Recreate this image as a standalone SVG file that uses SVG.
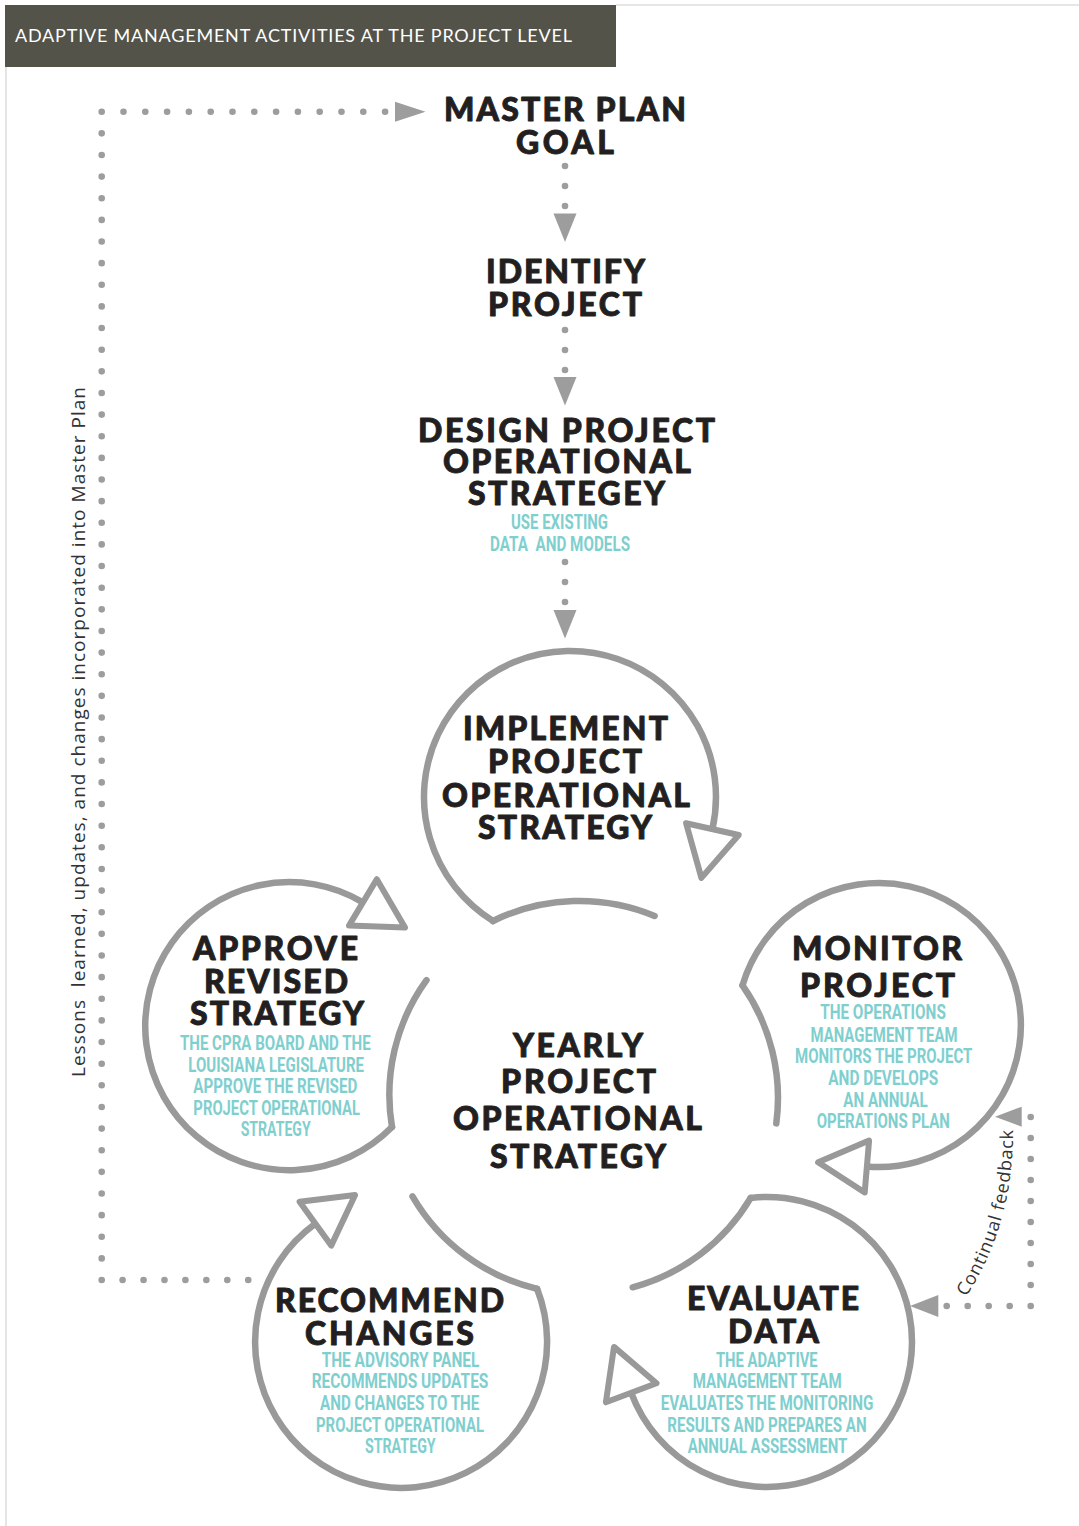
<svg xmlns="http://www.w3.org/2000/svg" width="1079" height="1526" viewBox="0 0 1079 1526">
<style>
.ring{fill:none;stroke:#999999;stroke-width:6.5;stroke-linecap:round}
.head{fill:none;stroke:#999999;stroke-width:6;stroke-linejoin:round;fill:#ffffff}
.dot{fill:none;stroke:#9d9d9d;stroke-width:6.6;stroke-linecap:round}
.tri{fill:#9d9d9d;stroke:none}
.h{font-family:Lato,"Liberation Sans",sans-serif;font-weight:900;font-size:32px;fill:#231f20;stroke:#231f20;stroke-width:0.9;stroke-linejoin:round;text-anchor:middle}
.t{font-family:Roboto,"Liberation Sans",sans-serif;font-weight:700;font-size:19.5px;fill:#80cfcf;text-anchor:middle}
.side{font-family:"Open Sans","Liberation Sans",sans-serif;font-size:19px;fill:#333333}
</style>
<rect x="0" y="0" width="1079" height="1526" fill="#ffffff"/>
<g id="frame">
<rect x="5" y="5" width="611" height="62" fill="#53534a"/>
<line x1="616" y1="5" x2="1079" y2="5" stroke="#e6e6e6" stroke-width="2"/>
<line x1="6" y1="67" x2="6" y2="1526" stroke="#dcdcdc" stroke-width="1.5"/>
<text x="15" y="42" font-family="Lato,'Liberation Sans',sans-serif" font-size="18" fill="#ffffff" textLength="557">ADAPTIVE MANAGEMENT ACTIVITIES AT THE PROJECT LEVEL</text>
</g>

<g id="connectors">
<line class="dot" x1="101.7" y1="111.7" x2="101.7" y2="1280.5" stroke-dasharray="0 21.636"/>
<line class="dot" x1="123.5" y1="111.7" x2="385.5" y2="111.7" stroke-dasharray="0 21.8"/>
<line class="dot" x1="122.6" y1="1280" x2="248.8" y2="1280" stroke-dasharray="0 20.94"/>
<polygon class="tri" points="395,101.7 425.5,111.7 395,121.7"/>
<line class="dot" x1="565" y1="166" x2="565" y2="206.5" stroke-dasharray="0 20"/>
<polygon class="tri" points="553.5,213.5 576.5,213.5 565,242"/>
<line class="dot" x1="565" y1="330" x2="565" y2="370.5" stroke-dasharray="0 20"/>
<polygon class="tri" points="553.5,377 576.5,377 565,405.5"/>
<line class="dot" x1="565" y1="562" x2="565" y2="602.5" stroke-dasharray="0 20"/>
<polygon class="tri" points="553.5,610 576.5,610 565,638.5"/>
<path class="dot" d="M946.7 1306 H1030.7 V1116.4" stroke-dasharray="0 21"/>
<polygon class="tri" points="995,1116.7 1021.7,1106.7 1021.7,1126.7"/>
<polygon class="tri" points="910,1306 938.3,1295 938.3,1317"/>
</g>

<g id="feedback-label">
<path id="fbpath" d="M966 1297 Q1015 1222 1013 1124" fill="none"/>
<text font-family="'Open Sans','Liberation Sans',sans-serif" font-size="18" fill="#333333"><textPath href="#fbpath" textLength="176">Continual feedback</textPath></text>
</g>

<g id="side-label">
<text class="side" transform="translate(85 1077) rotate(-90)" x="0" y="0" textLength="690" xml:space="preserve">Lessons  learned, updates, and changes incorporated into Master Plan</text>
</g>

<g id="master-plan-goal">
<text class="h" x="565" y="121" font-size="33" textLength="242">MASTER PLAN</text>
<text class="h" x="565" y="154" font-size="33" textLength="98">GOAL</text>
</g>

<g id="identify-project">
<text class="h" x="565.5" y="283" font-size="33" textLength="159">IDENTIFY</text>
<text class="h" x="565" y="315.5" font-size="33" textLength="154">PROJECT</text>
</g>

<g id="design-strategy">
<text class="h" x="566.5" y="441.7" textLength="297">DESIGN PROJECT</text>
<text class="h" x="567" y="472.7" textLength="248">OPERATIONAL</text>
<text class="h" x="566.5" y="505" textLength="197">STRATEGEY</text>
<text class="t" x="559.5" y="529.3" textLength="97" lengthAdjust="spacingAndGlyphs">USE EXISTING</text>
<text class="t" x="560" y="550.7" textLength="140" lengthAdjust="spacingAndGlyphs" xml:space="preserve">DATA  AND MODELS</text>
</g>

<g id="yearly-strategy">
<path class="ring" d="M493 921 A196 196 0 0 1 654.6 915.9"/>
<path class="ring" d="M742.5 985.4 A196 196 0 0 1 776.3 1123.4"/>
<path class="ring" d="M750.7 1197.9 A196 196 0 0 1 632.7 1287.3"/>
<path class="ring" d="M537.1 1288.8 A196 196 0 0 1 412.5 1196.4"/>
<path class="ring" d="M392 1127 A196 196 0 0 1 426.5 980.1"/>
<text class="h" x="578" y="1056.7" font-size="34" textLength="130">YEARLY</text>
<text class="h" x="578.5" y="1093.3" font-size="34" textLength="155">PROJECT</text>
<text class="h" x="577.5" y="1130" font-size="34" textLength="249">OPERATIONAL</text>
<text class="h" x="578" y="1168.3" font-size="34" textLength="176">STRATEGY</text>
</g>

<g id="implement">
<path class="ring" d="M493 921 A146 146 0 1 1 712.4 829.1"/>
<text class="h" x="565.5" y="740" font-size="31" textLength="205">IMPLEMENT</text>
<text class="h" x="565" y="773" font-size="31" textLength="154">PROJECT</text>
<text class="h" x="566" y="806.5" font-size="31" textLength="248">OPERATIONAL</text>
<text class="h" x="565" y="838.5" font-size="31" textLength="174">STRATEGY</text>
</g>

<g id="monitor">
<path class="ring" d="M742.5 985.4 A142 142 0 1 1 866.9 1166.5"/>
<text class="h" x="877" y="960" textLength="170">MONITOR</text>
<text class="h" x="877.5" y="996.7" textLength="155">PROJECT</text>
<text class="t" x="883" y="1019.3" textLength="125.7" lengthAdjust="spacingAndGlyphs">THE OPERATIONS</text>
<text class="t" x="884" y="1041.7" textLength="147" lengthAdjust="spacingAndGlyphs">MANAGEMENT TEAM</text>
<text class="t" x="883.7" y="1063.3" textLength="177.3" lengthAdjust="spacingAndGlyphs">MONITORS THE PROJECT</text>
<text class="t" x="883.3" y="1085" textLength="110" lengthAdjust="spacingAndGlyphs">AND DEVELOPS</text>
<text class="t" x="885.5" y="1106.7" textLength="84.3" lengthAdjust="spacingAndGlyphs">AN ANNUAL</text>
<text class="t" x="883.3" y="1128.3" textLength="133.3" lengthAdjust="spacingAndGlyphs">OPERATIONS PLAN</text>
</g>

<g id="evaluate">
<path class="ring" d="M750.7 1197.9 A145 145 0 1 1 631.2 1392.8"/>
<text class="h" x="773" y="1310" textLength="172">EVALUATE</text>
<text class="h" x="773.5" y="1343.3" textLength="91">DATA</text>
<text class="t" x="766.8" y="1367.3" textLength="101.7" lengthAdjust="spacingAndGlyphs">THE ADAPTIVE</text>
<text class="t" x="767.2" y="1388.3" textLength="149" lengthAdjust="spacingAndGlyphs">MANAGEMENT TEAM</text>
<text class="t" x="767" y="1410" textLength="212.7" lengthAdjust="spacingAndGlyphs">EVALUATES THE MONITORING</text>
<text class="t" x="767" y="1431.7" textLength="199.3" lengthAdjust="spacingAndGlyphs">RESULTS AND PREPARES AN</text>
<text class="t" x="767.5" y="1453.3" textLength="159.7" lengthAdjust="spacingAndGlyphs">ANNUAL ASSESSMENT</text>
</g>

<g id="recommend">
<path class="ring" d="M537.1 1288.8 A146 146 0 1 1 315.4 1223.7"/>
<text class="h" x="389.5" y="1311.7" textLength="229">RECOMMEND</text>
<text class="h" x="389.5" y="1345" textLength="169">CHANGES</text>
<text class="t" x="400.5" y="1366.7" textLength="157.7" lengthAdjust="spacingAndGlyphs">THE ADVISORY PANEL</text>
<text class="t" x="400" y="1388.3" textLength="176.7" lengthAdjust="spacingAndGlyphs">RECOMMENDS UPDATES</text>
<text class="t" x="399.7" y="1410" textLength="159.3" lengthAdjust="spacingAndGlyphs">AND CHANGES TO THE</text>
<text class="t" x="400" y="1431.7" textLength="168" lengthAdjust="spacingAndGlyphs">PROJECT OPERATIONAL</text>
<text class="t" x="400.3" y="1453.3" textLength="70.7" lengthAdjust="spacingAndGlyphs">STRATEGY</text>
</g>

<g id="approve">
<path class="ring" d="M392 1127 A144 144 0 1 1 362.9 902.4"/>
<text class="h" x="275.5" y="960" textLength="165">APPROVE</text>
<text class="h" x="276" y="993" textLength="144">REVISED</text>
<text class="h" x="277" y="1025" textLength="174">STRATEGY</text>
<text class="t" x="275.3" y="1050" textLength="190.7" lengthAdjust="spacingAndGlyphs">THE CPRA BOARD AND THE</text>
<text class="t" x="276.2" y="1071.7" textLength="175.7" lengthAdjust="spacingAndGlyphs">LOUISIANA LEGISLATURE</text>
<text class="t" x="275.3" y="1093.3" textLength="164" lengthAdjust="spacingAndGlyphs">APPROVE THE REVISED</text>
<text class="t" x="276.7" y="1115" textLength="166.7" lengthAdjust="spacingAndGlyphs">PROJECT OPERATIONAL</text>
<text class="t" x="275.7" y="1135.5" textLength="70" lengthAdjust="spacingAndGlyphs">STRATEGY</text>
</g>

<g id="cycle-arrowheads">
<polygon class="head" points="738.7,835 701.4,877.9 686.1,823.2"/>
<polygon class="head" points="864.7,1192.4 818.1,1162.3 869.1,1140.6"/>
<polygon class="head" points="605.9,1402.3 614,1346.9 656.5,1383.3"/>
<polygon class="head" points="299.6,1201.8 355.1,1195 331.2,1245.6"/>
<polygon class="head" points="376.8,879.2 405,927.6 349,925.6"/>
</g>
</svg>
